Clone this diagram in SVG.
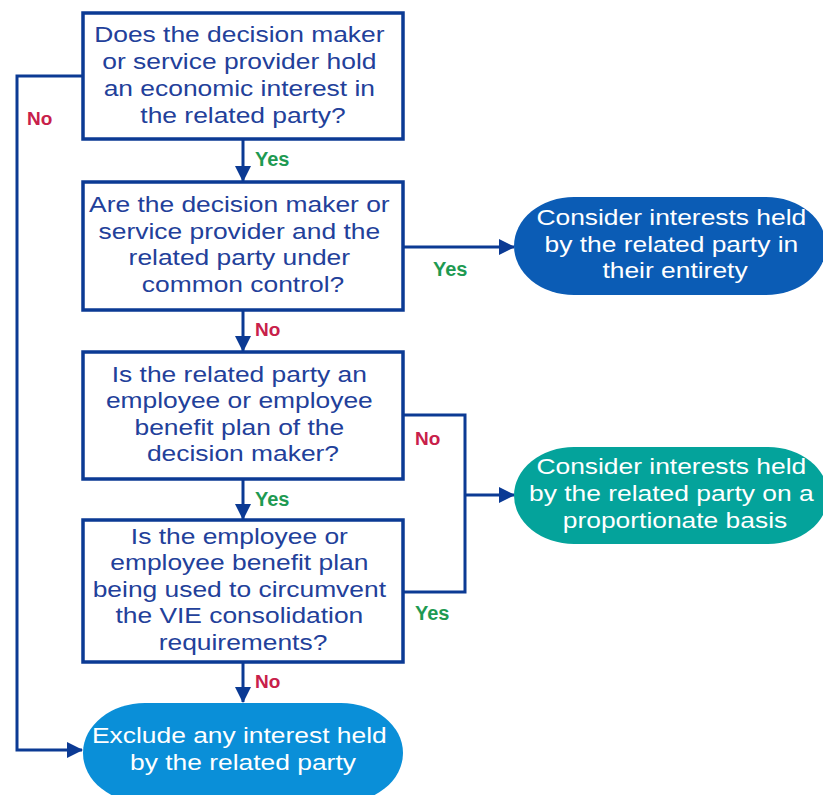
<svg xmlns="http://www.w3.org/2000/svg" width="823" height="795" viewBox="0 0 823 795">
  <style>
    .box { fill: #ffffff; stroke: #0b3a94; stroke-width: 3.5; }
    .q { font-family: "Liberation Sans", Arial, sans-serif; font-size: 22px; fill: #22409a; text-anchor: middle; }
    .t { font-family: "Liberation Sans", Arial, sans-serif; font-size: 22px; fill: #ffffff; text-anchor: middle; }
    .wire { fill: none; stroke: #0b3a94; stroke-width: 3; }
    .yes { font-family: "Liberation Sans", Arial, sans-serif; font-size: 20px; font-weight: bold; fill: #1e9a52; }
    .no { font-family: "Liberation Sans", Arial, sans-serif; font-size: 19px; font-weight: bold; fill: #c8204a; }
  </style>
  <defs>
    <marker id="arrow" markerWidth="16" markerHeight="16" refX="15" refY="8" orient="auto" markerUnits="userSpaceOnUse">
      <path d="M0,0 L16,8 L0,16 Z" fill="#0b3a94"/>
    </marker>
  </defs>
  <rect width="823" height="795" fill="#ffffff"/>

  <g id="connectors">
    <path class="wire" d="M243,139 V181" marker-end="url(#arrow)"/>
    <path class="wire" d="M243,310 V351" marker-end="url(#arrow)"/>
    <path class="wire" d="M243,479 V519" marker-end="url(#arrow)"/>
    <path class="wire" d="M243,662 V702" marker-end="url(#arrow)"/>
    <path class="wire" d="M83,76 H17 V750 H82" marker-end="url(#arrow)"/>
    <path class="wire" d="M403,247 H514" marker-end="url(#arrow)"/>
    <path class="wire" d="M403,415 H465 V592 H403"/>
    <path class="wire" d="M465,495 H514" marker-end="url(#arrow)"/>
    <text class="yes" x="255" y="166">Yes</text>
    <text class="no" x="255" y="336">No</text>
    <text class="yes" x="255" y="506">Yes</text>
    <text class="no" x="255" y="688">No</text>
    <text class="no" x="27" y="125">No</text>
    <text class="yes" x="433" y="276">Yes</text>
    <text class="no" x="415" y="445">No</text>
    <text class="yes" x="415" y="620">Yes</text>
  </g>

  <g id="q1">
    <rect class="box" x="83" y="13" width="320" height="126"/>
    <g transform="translate(243 0) scale(1.2 1)">
      <text class="q">
        <tspan x="0" y="42.5">Does the decision maker</tspan>
        <tspan x="0" y="69.2">or service provider hold</tspan>
        <tspan x="0" y="95.9">an economic interest in</tspan>
        <tspan x="0" y="122.6">the related party?</tspan>
      </text>
    </g>
  </g>

  <g id="q2">
    <rect class="box" x="83" y="182" width="320" height="128"/>
    <g transform="translate(243 0) scale(1.2 1)">
      <text class="q">
        <tspan x="0" y="212">Are the decision maker or</tspan>
        <tspan x="0" y="238.7">service provider and the</tspan>
        <tspan x="0" y="265.4">related party under</tspan>
        <tspan x="0" y="292.1">common control?</tspan>
      </text>
    </g>
  </g>

  <g id="q3">
    <rect class="box" x="83" y="352" width="320" height="127"/>
    <g transform="translate(243 0) scale(1.2 1)">
      <text class="q">
        <tspan x="0" y="382">Is the related party an</tspan>
        <tspan x="0" y="408.5">employee or employee</tspan>
        <tspan x="0" y="435">benefit plan of the</tspan>
        <tspan x="0" y="461.5">decision maker?</tspan>
      </text>
    </g>
  </g>

  <g id="q4">
    <rect class="box" x="83" y="520" width="320" height="142"/>
    <g transform="translate(243 0) scale(1.2 1)">
      <text class="q">
        <tspan x="0" y="544">Is the employee or</tspan>
        <tspan x="0" y="570.5">employee benefit plan</tspan>
        <tspan x="0" y="597">being used to circumvent</tspan>
        <tspan x="0" y="623.5">the VIE consolidation</tspan>
        <tspan x="0" y="650">requirements?</tspan>
      </text>
    </g>
  </g>

  <g id="entirety">
    <rect x="514" y="197" width="312" height="98" rx="60" ry="49" fill="#0b5cb5"/>
    <g transform="translate(675 0) scale(1.2 1)">
      <text class="t">
        <tspan x="0" y="225">Consider interests held</tspan>
        <tspan x="0" y="252">by the related party in</tspan>
        <tspan x="0" y="278">their entirety</tspan>
      </text>
    </g>
  </g>

  <g id="proportionate">
    <rect x="514" y="447" width="314" height="97" rx="60" ry="48.5" fill="#04a39b"/>
    <g transform="translate(675 0) scale(1.2 1)">
      <text class="t">
        <tspan x="0" y="474">Consider interests held</tspan>
        <tspan x="0" y="501">by the related party on a</tspan>
        <tspan x="0" y="528">proportionate basis</tspan>
      </text>
    </g>
  </g>

  <g id="exclude">
    <rect x="83" y="703" width="320" height="100" rx="62" ry="50" fill="#0a8fd8"/>
    <g transform="translate(243 0) scale(1.2 1)">
      <text class="t">
        <tspan x="0" y="743">Exclude any interest held</tspan>
        <tspan x="0" y="770">by the related party</tspan>
      </text>
    </g>
  </g>
</svg>
